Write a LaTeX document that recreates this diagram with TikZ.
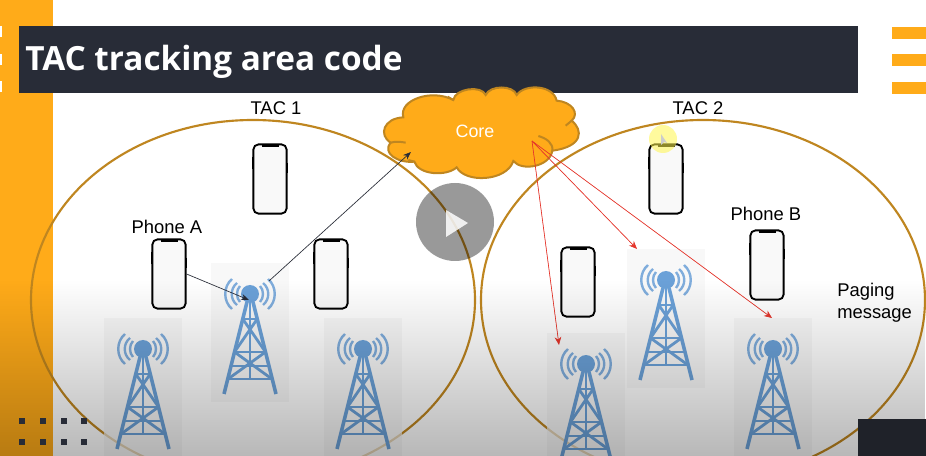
\documentclass[tikz,border=0pt]{standalone}
\usepackage{fontspec}
\setmainfont{Liberation Sans}
\newfontfamily\titlefont{Open Sans}
\usepackage{xcolor}
\usepackage{tikz}
\usetikzlibrary{arrows.meta,shapes.geometric,fadings}
\definecolor{barorange}{HTML}{FFAB19}
\definecolor{titledark}{HTML}{282C37}
\definecolor{cornerdark}{HTML}{1F2229}
\definecolor{ringgold}{HTML}{BF8620}
\definecolor{towerblue}{HTML}{6BA1D8}
\definecolor{pagered}{HTML}{E5352B}
\tikzfading[name=fadedown,top color=transparent!100,bottom color=transparent!72]
\tikzset{
  lbl/.style={font=\fontsize{13.8}{16.5}\selectfont,align=left,inner sep=0pt},
  tac/.style={draw=ringgold,line width=1.6pt,ellipse,minimum width=333pt,minimum height=270pt,inner sep=0pt},
  towerline/.style={draw=towerblue,line width=2.1pt},
  arrowblack/.style={-{Stealth[length=6pt,width=4.5pt]},line width=0.5pt,draw=titledark},
  arrowred/.style={-{Stealth[length=6pt,width=5pt]},line width=0.5pt,draw=pagered,fill=pagered},
  dot/.style={fill=titledark,minimum size=4.5pt,inner sep=0pt},
  cloudedge/.style={draw=ringgold,line width=1.5pt},
  phone/.pic={
    \node[draw=black,fill=gray!5,line width=1.4pt,rounded corners=4pt,minimum width=25pt,minimum height=52pt,inner sep=0pt] (-body) {};
    \fill[black] (-8.5,-35) rectangle (8.5,-32);
    \draw[line width=0.8pt] (-17.5,-22) -- (-17.5,-10) (17.5,-16) -- (17.5,-6);
  },
  tower/.pic={
    \node[fill=gray!7,fill opacity=0.7,minimum width=58pt,minimum height=104pt,inner sep=0pt] (-bg) at (0,38.5) {};
    \fill[towerblue] (0,0) circle (9);
    \foreach \s in {-1,1} {
      \foreach \a/\b/\c in {10/14/8,13/20/11,18/27/15}
        \draw[towerline,line width=1.8pt,draw opacity=0.85] (\s*\a,-\c) .. controls (\s*\b,-\c/2) and (\s*\b,\c/2) .. (\s*\a,\c);
      \draw[towerline,line width=2.7pt] (\s*3,8) -- (\s*26,100);
      \draw[towerline] (\s*7.2,25) -- (-\s*15.5,58);
      \draw[towerline] (\s*15.5,58) -- (-\s*22,85);
    }
    \draw[towerline] (0,8) -- (0,86);
    \foreach \y/\w in {25/7.2,58/15.5,72/19,85/22}
      \draw[towerline] (-\w,\y) -- (\w,\y);
  }
}
\begin{document}
\begin{tikzpicture}[x=0.75pt,y=-0.75pt]
  \useasboundingbox (0,0) rectangle (926,456);
  \clip (0,0) rectangle (926,456);
  \fill[white] (0,0) rectangle (926,456);
  % side bar and title
  \fill[barorange] (0,0) rectangle (53,456);
  \fill[titledark] (19,26) rectangle (858,93);
  \node[font=\titlefont\bfseries\fontsize{25}{30}\selectfont,text=white,anchor=base west,inner sep=0pt] (title) at (25,71) {TAC tracking area code};
  \foreach \y in {26,54,81}
    \fill[white] (0,\y) rectangle (2,\y+11);
  \foreach \y in {27,54,82}
    \fill[barorange] (892,\y) rectangle (926,\y+12);
  % the two areas
  \node[tac] (tac1) at (253,300) {};
  \node[tac] (tac2) at (703,300) {};
  \node[lbl] (tac1txt) at (276,108) {TAC 1};
  \node[lbl] (tac2txt) at (698,108) {TAC 2};
  \node[lbl] (phoneAtxt) at (167,227) {Phone A};
  \node[lbl] (phoneBtxt) at (766,214) {Phone B};
  \node[lbl,anchor=north west] (paging) at (837,283) {Paging\\message};
  % phones
  \pic (ph1) at (270,179) {phone};
  \pic (phoneA) at (169,274) {phone};
  \pic (ph3) at (331,274) {phone};
  \pic (ph4) at (666,179) {phone};
  \pic (ph5) at (578,282) {phone};
  \pic (phoneB) at (767,265) {phone};
  % towers
  \pic (t1) at (143,349) {tower};
  \pic (t2) at (250,294) {tower};
  \pic (t3) at (363,349) {tower};
  \pic (t4) at (586,364) {tower};
  \pic (t5) at (666,280) {tower};
  \pic (t6) at (773,349) {tower};
  % core
  \begin{scope}[shift={(375,80)},x=0.25pt,y=-0.25pt]
    \draw[cloudedge,fill=barorange] (85,112) .. controls (70,60) and (170,25) .. (235,60)
      .. controls (240,25) and (320,15) .. (332,45)
      .. controls (345,15) and (415,15) .. (425,45)
      .. controls (450,10) and (535,15) .. (545,62)
      .. controls (590,65) and (615,100) .. (590,122)
      .. controls (625,150) and (625,200) .. (532,212)
      .. controls (525,260) and (440,275) .. (415,243)
      .. controls (395,305) and (270,310) .. (245,262)
      .. controls (215,290) and (130,285) .. (118,245)
      .. controls (70,250) and (20,220) .. (47,188)
      .. controls (10,165) and (25,115) .. (85,112) -- cycle;
    \draw[cloudedge] (590,122) -- (572,137);
    \draw[cloudedge] (490,168) .. controls (515,175) and (535,190) .. (532,212);
    \draw[cloudedge] (47,188) .. controls (60,184) and (78,185) .. (92,188);
    \draw[cloudedge] (235,60) -- (218,50);
    \draw[cloudedge] (118,245) -- (100,240);
  \end{scope}
  \node[font=\fontsize{13.4}{15}\selectfont,text=white,inner sep=0pt] (core) at (475,131) {Core};
  \coordinate (coreIn) at (411,152);
  \coordinate (coreOut) at (532,141);
  \coordinate (t2out) at (269,281);
  \coordinate (t2in) at (249,300);
  \coordinate (t4in) at (559,345);
  \coordinate (t5in) at (637,249);
  \coordinate (t6in) at (772,318);
  % play button
  \fill[black,fill opacity=0.4] (455,222) circle (39);
  \fill[white,fill opacity=0.85] (446,210) -- (468,223) -- (446,237) -- cycle;
  % pointer
  \fill[yellow!70,fill opacity=0.55] (663,139) circle (14);
  \fill[gray!40] (661,134) -- (661,145) -- (664,142) -- (667,143) -- cycle;
  % links
  \draw[arrowblack] (phoneA-body.east) -- (t2in);
  \draw[arrowblack] (t2out) -- (coreIn);
  \foreach \a in {t4in,t5in,t6in}
    \draw[arrowred] (coreOut) -- (\a);
  % shadow of the slide, bottom corner
  \fill[black,path fading=fadedown] (0,280) rectangle (926,456);
  \fill[cornerdark] (858,419) rectangle (926,456);
  \foreach \x in {22,43,64,84}
    \foreach \y in {421,442}
      \node[dot] (d\x\y) at (\x,\y) {};
\end{tikzpicture}
\end{document}
